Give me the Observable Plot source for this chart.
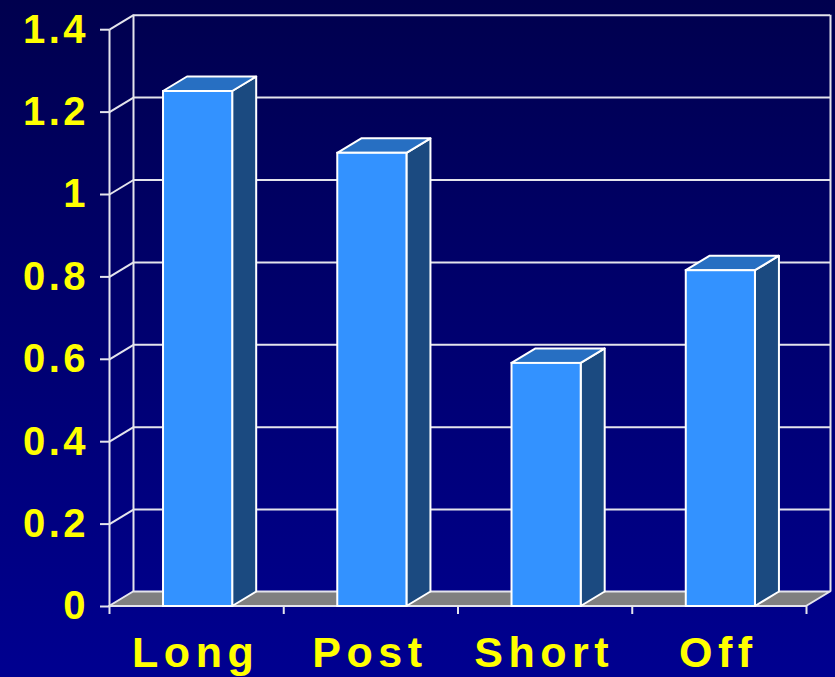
<!DOCTYPE html>
<html>
<head>
<meta charset="utf-8">
<script src="https://cdn.jsdelivr.net/npm/d3@7"></script>
<script src="https://cdn.jsdelivr.net/npm/@observablehq/plot@0.6"></script>
<style>
  html, body { margin: 0; padding: 0; background: #000070; }
  #chart svg { display: block; }
</style>
</head>
<body>
<div id="chart"></div>
<script>
// ---- data ----
const categories = ["Long", "Post", "Short", "Off"];
const values = [1.25, 1.10, 0.59, 0.815];
const yTicks = [0, 0.2, 0.4, 0.6, 0.8, 1, 1.2, 1.4];

// ---- layout (3D depth offsets in data units) ----
const dxU = 0.1377;   // depth shift along x
const dyU = 0.0352;   // depth shift along y
const barL = 0.31, barW = 0.397;
const n = categories.length;

const bars = categories.map((c, i) => ({cat: c, i, v: values[i]}));
const sides = bars.flatMap(b => [
  {cat: b.cat, x: b.i + barL + barW, y1: 0, y2: b.v},
  {cat: b.cat, x: b.i + barL + barW + dxU, y1: dyU, y2: b.v + dyU}
]);
const tops = bars.flatMap(b => [
  {cat: b.cat, y: b.v, x1: b.i + barL, x2: b.i + barL + barW},
  {cat: b.cat, y: b.v + dyU, x1: b.i + barL + dxU, x2: b.i + barL + barW + dxU}
]);
const floor = [
  {y: 0, x1: 0, x2: n},
  {y: dyU, x1: dxU, x2: n + dxU}
];
const grid = "#e4e4ec";
const font = "'Liberation Sans', Arial, sans-serif";

const chart = Plot.plot({
  width: 835,
  height: 677,
  marginLeft: 109,
  marginRight: 5,
  marginTop: 14.7,
  marginBottom: 71,
  style: {
    background: "linear-gradient(to bottom, #00004e 0%, #000070 50%, #000090 100%)",
    fontFamily: font
  },
  x: {type: "linear", domain: [0, n + dxU], axis: null},
  y: {type: "linear", domain: [0, 1.4 + dyU], axis: null},
  marks: [
    // back wall gridlines
    Plot.ruleY(yTicks.filter(d => d > 0), {y: d => d + dyU, x1: dxU, x2: n + dxU, stroke: grid, strokeWidth: 2}),
    // left wall diagonals
    Plot.link(yTicks, {x1: 0, y1: d => d, x2: dxU, y2: d => d + dyU, stroke: grid, strokeWidth: 2}),
    // back wall verticals
    Plot.ruleX([dxU, n + dxU], {x: d => d, y1: dyU, y2: 1.4 + dyU, stroke: grid, strokeWidth: 2}),
    // front axis line
    Plot.ruleX([0], {y1: 0, y2: 1.4, stroke: grid, strokeWidth: 2}),
    // floor
    Plot.areaX(floor, {y: "y", x1: "x1", x2: "x2", fill: "#808080", stroke: grid, strokeWidth: 2}),
    // bar side faces
    Plot.areaY(sides, {x: "x", y1: "y1", y2: "y2", z: "cat", fill: "#1b4a80", stroke: "white", strokeWidth: 2}),
    // bar top faces
    Plot.areaX(tops, {y: "y", x1: "x1", x2: "x2", z: "cat", fill: "#276fc2", stroke: "white", strokeWidth: 2}),
    // bar front faces
    Plot.rect(bars, {x1: d => d.i + barL, x2: d => d.i + barL + barW, y1: 0, y2: "v", fill: "#3392ff", stroke: "white", strokeWidth: 2}),
    // axes ticks
    Plot.axisY({ticks: yTicks, tickSize: 9, tickFormat: () => "", color: grid, strokeWidth: 2}),
    Plot.axisX({ticks: d3.range(n + 1), tickSize: 8, tickFormat: () => "", color: grid, strokeWidth: 2}),
    // y labels
    Plot.text(yTicks, {x: 0, y: d => d, text: d => d3.format("")(d), textAnchor: "end", dx: -20.5, dy: 0,
      fill: "#ffff00", fontSize: 40, fontWeight: "bold"}),
    // category labels
    Plot.text(bars, {x: d => d.i + 0.5, y: 0, text: "cat", textAnchor: "middle", dx: -1, dy: 47,
      fill: "#ffff00", fontSize: 43, fontWeight: "bold"})
  ]
});
d3.select(chart).selectAll("g[font-size='40'] text").style("letter-spacing", "3.5px");
d3.select(chart).selectAll("g[font-size='43'] text").style("letter-spacing", "5.5px");
document.getElementById("chart").append(chart);
</script>
</body>
</html>
